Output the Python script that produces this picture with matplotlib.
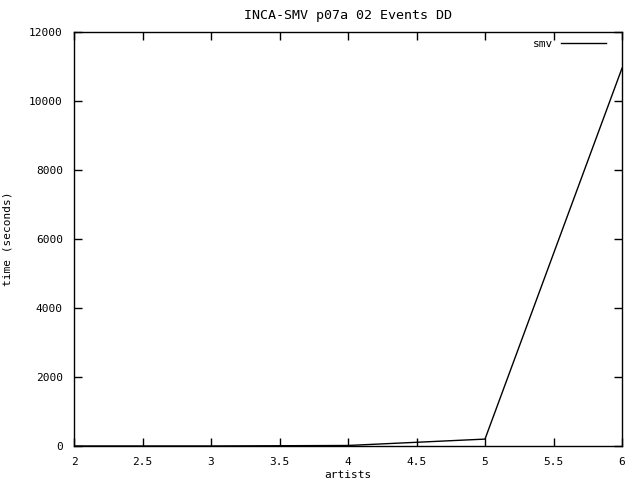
import matplotlib
matplotlib.use('Agg')
import matplotlib.pyplot as plt
import numpy as np

# data
artists = [2, 3, 4, 5, 6]
smv_time = [0, 0, 15, 200, 10950]

plt.rcParams['font.family'] = 'DejaVu Sans Mono'
plt.rcParams['font.size'] = 8

fig = plt.figure(figsize=(6.4, 4.8), dpi=100)
ax = fig.add_axes([74/640, 34/480, 548/640, 414/480])

ax.plot(artists, smv_time, color='black', linewidth=1, label='smv')

ax.set_xlim(2, 6)
ax.set_ylim(0, 12000)
ax.set_xticks(np.arange(2, 6.01, 0.5))
ax.set_xticklabels(['2', '2.5', '3', '3.5', '4', '4.5', '5', '5.5', '6'])
ax.set_yticks(np.arange(0, 12001, 2000))
ax.tick_params(direction='in', length=6, width=1, top=True, right=True, pad=8)
for s in ax.spines.values():
    s.set_linewidth(1)

ax.set_xlabel('artists', labelpad=2)
ax.set_ylabel('time (seconds)', labelpad=12)
ax.set_title('INCA-SMV p07a 02 Events DD', pad=9)

leg = ax.legend(loc='upper right', bbox_to_anchor=(0.971, 0.984), frameon=False,
                handlelength=4.1, handletextpad=0.7, markerfirst=False,
                borderaxespad=0, borderpad=0)

fig.savefig('out.png', dpi=100)
